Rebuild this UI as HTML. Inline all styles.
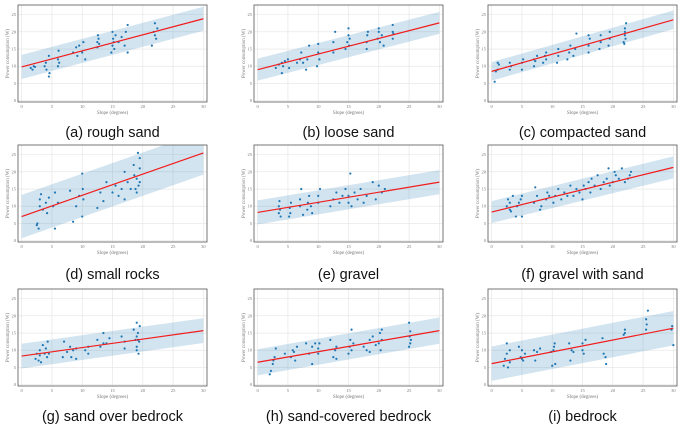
<!DOCTYPE html>
<html><head><meta charset="utf-8">
<style>
html,body{margin:0;padding:0;background:#fff;}
svg{display:block;}
</style></head>
<body>
<svg id="fig" width="685" height="426" viewBox="0 0 685 426" xmlns="http://www.w3.org/2000/svg"></svg>
<script>
const captions=["(a) rough sand","(b) loose sand","(c) compacted sand","(d) small rocks","(e) gravel","(f) gravel with sand","(g) sand over bedrock","(h) sand-covered bedrock","(i) bedrock"];
const xTicks=[0,5,10,15,20,25,30];
const yTicks=[0,5,10,15,20,25];
const fitIntercepts=[9.8,9,8.5,7,8.2,8.3,8.3,6.5,6.1];
const fitEnds=[23.8,22.6,23.5,25.5,17,21.3,15.7,15.7,16.4];
const bandHalf=[3.5,3.2,2.7,6.3,3.5,3.2,3.6,3.8,5];
const aX=[1.5,1.8,2,2.2,3.8,4,4.1,4.5,4.5,4.6,6,6,6.1,6.2,8.5,9,9.2,9.5,10,10.2,10.5,12.5,12.5,12.6,12.7,12.8,14.8,15,15,15.1,15.2,15.3,15.5,16,16.5,17,17.2,17.5,17.5,21.5,21.8,22,22,22.2,22.4];
const aY=[9.5,9,10,9.8,10,11,9,7,13,8,10,12,14.5,11,14,15.5,13,16,14,17,12,15.5,17,19,18,16.5,14,16,20,18,17,15,19,17,18.5,16,20,14,22,16,20,19,22.5,18,21];
const bX=[3,3.5,4,4,4.2,4.5,5,5.2,6.5,7,7.2,7.5,8,8.2,8.5,9.8,10,10,10.2,12.5,12.5,12.8,14.5,14.8,15,15,15.1,15.2,18,18,18.1,18.2,19.8,20,20,20.2,20.5,20.8,22.3,22.3,22.3,22.4];
const bY=[9.5,10.5,8,11,10,11.5,12,9.5,11,12,14,11,9,12,16,10,14,16.5,12,14,17,20,15,17,19,21,16,18,15,17,19,20,18,20,21,17,19,16,18,20,22,19.5];
const cX=[0.5,0.7,1,1,1.2,3,3,3.2,5,5,5.2,7,7,7.2,7.5,8.5,8.8,9,9,10.8,11,11,12.5,12.8,13,13.5,13.8,14,16,16,16.2,16,17.8,18,18,19.3,19.5,19.5,21.8,22,22,22.1,22.2,22,21.9];
const cY=[5.5,8.5,9,11,10.5,9,11,10,9,11,12,10,12,11.5,13,11,13,12,14,11,13,15,12,14,16,13,15,19.5,14,16,18,19,15,17,19,16,18,20,17,19,21,18,22.5,20,16.5];
const dX=[2.5,2.6,2.8,3,3,3.2,3.5,4,4.2,4.5,5.2,5.5,5.5,6,8,8.5,9,9.5,10,10,10.1,10.2,12.5,13,13.5,14,15,15.5,16,16.5,17,17,17.5,18,18.5,19,19,19.2,19.3,19.5,19.5,19.5,18.8,18.6];
const dY=[4.5,5,3.5,10,12,13.5,9,11,8,12.5,10,3.5,14,11,14.5,5.5,10,13,19.5,7,15,12,9.5,14,11.5,17,14,16,13,15,20,12,17,15,22,14,18,25.5,16,21,17,24,15,19];
const eX=[3.5,3.5,3.6,3.8,3.7,5.2,5.3,5.5,5.4,7,7,7.2,7.5,8.2,8.3,8.5,8.8,9,10,10,10.3,12,12.5,13,13.5,14,14.5,15,15,15.3,15.5,16,16.5,17,17.5,18,19,19.5,20,20.5,21];
const eY=[8,10,11.5,7,9,7,9.5,11,8,10,12,15,7.5,9,11,13,10,8,11,13,15,10,12,14,11,13,15,11,13,19.5,10,14,12,15,11,13,17,12,16,14,15];
const fX=[2.5,2.7,3,3,3.2,3.5,4,4.2,4.5,4.8,5,5,7,7.2,7.5,8,8.2,9,9.2,9.5,10.2,10.5,11,11.5,12,12.5,13,13.5,14,14.5,15,15.2,15.5,16,16.3,16.5,17,17.5,18,18.5,19,19.3,19.5,20,20.3,20.5,21,21.5,22,22.5,22.8,23];
const fY=[10,12,9,11,8.5,13,7,10,11,12,7,13,11,15.5,13,9,10,12,14,13,11,13,15,12,14,13,16,13,15,14,12,16,15,17,14,18,16,19,15,17,18,21,16,17,20,19,18,21,17,18,19,20];
const gX=[2.3,2.5,2.8,3,3,3.2,3.5,3.8,4,4.2,4.3,4.5,6.8,7,7.5,8,8.2,8.5,9,9,10.5,11,11,12.5,13,13.5,13.5,14,14.5,16.5,17,17,18.5,18.8,19,19,19,19.2,19.3,19.4,19.5,19,19.2];
const gY=[7.5,9,7,8.5,10,6.5,11.5,9,10.5,8,12.5,9,8,12.5,9.5,11,8,10,10.5,7.5,10,9,11,13,11,15,12,12,13.5,14,10.5,12.5,16,13,18,14,11,15,9,12.5,17,10,13];
const hX=[2,2.2,2.5,2.8,3,2.6,4.5,5.5,5.8,6,6.2,6.5,8,8.5,9,9,9.5,10,10,10.2,12,12.5,12.8,13,13,15,15.2,15.3,15.5,15.5,15.8,17.5,18,18.5,18.5,19,19.5,20,20.2,20.3,20.5,20.5,25,25,25.1,25.2,25.3,25.2];
const hY=[3,4,6,8,10.5,7,9,8,10,9.5,7,11,12,9,6,11,12,9,10.5,12,13,8,10,11,7.5,9,11,13,16,10,12,11,10,13,9.5,14,11.5,12,15,10,13,16,18,11,14,15.5,13,12];
const iX=[2,2.2,2.5,2.5,2.7,3,3,4.5,4.8,5,5,5.5,5.2,7,7.2,7.5,8,9.8,10,10.2,10.4,10.5,10.3,12.8,13,13.2,13.5,15,15,15.2,15.5,18.3,18.5,18.8,18.9,21.8,22,22,25.5,25.6,25.8,25.5,29.7,30,29.8];
const iY=[5.5,7.5,9,12,5,10,6.5,11,8,7.5,10,9,7,10,7,9.5,10.5,9.5,5.5,10,12,6,11,12,7,10,9.5,10,12,9,13,13.5,9,8,6,14.5,15,16,16,17.5,21.5,19,16,11.5,17];
const seriesX=[aX,bX,cX,dX,eX,fX,gX,hX,iX];
const seriesY=[aY,bY,cY,dY,eY,fY,gY,hY,iY];

const NS="http://www.w3.org/2000/svg";
const svg=document.getElementById('fig');
const defs=document.createElementNS(NS,'defs');svg.appendChild(defs);
const colLeft=[18,254,488], rowTop=[5,145,289], PW=189, PH=97;
const capBase=[137,279,421];
function mk(tag,attrs,parent){const e=document.createElementNS(NS,tag);for(const k in attrs)e.setAttribute(k,attrs[k]);parent.appendChild(e);return e;}
for(let p=0;p<9;p++){
  const L=colLeft[p%3], T=rowTop[Math.floor(p/3)];
  const sx=v=>L+(v+0.6)/31.2*PW;
  const sy=v=>T+PH-(v+0.4)/28.2*PH;
  const cp=mk('clipPath',{id:'clip'+p},defs);
  mk('rect',{x:L,y:T,width:PW,height:PH},cp);
  const g=mk('g',{},svg);
  
  
  mk('rect',{x:L,y:T,width:PW,height:PH,fill:'#fff'},g);
  xTicks.forEach(t=>{
    const gl=mk('line',{x1:sx(t),x2:sx(t),y1:T,y2:T+PH,stroke:'#e3e3e3','stroke-width':0.6},g);
    
    
    const tl=mk('text',{x:sx(t),y:T+PH+6,'font-size':4.5,fill:'#777','text-anchor':'middle','font-family':'Liberation Serif, serif'},g);
    tl.textContent=t;
    
    
  });
  yTicks.forEach(t=>{
    const gl=mk('line',{x1:L,x2:L+PW,y1:sy(t),y2:sy(t),stroke:'#e3e3e3','stroke-width':0.6},g);
    
    
    const tl=mk('text',{x:L-2,y:sy(t)+1.5,'font-size':4.5,fill:'#777','text-anchor':'end','font-family':'Liberation Serif, serif'},g);
    tl.textContent=t;
    
    
  });
  const inner=mk('g',{'clip-path':`url(#clip${p})`},g);
  const b0=fitIntercepts[p], b1=fitEnds[p], h=bandHalf[p];
  const band=mk('polygon',{points:`${sx(0)},${sy(b0+h)} ${sx(30)},${sy(b1+h)} ${sx(30)},${sy(b1-h)} ${sx(0)},${sy(b0-h)}`,fill:'#1f77b4','fill-opacity':0.2},inner);
  
  
  const xs=seriesX[p], ys=seriesY[p];
  for(let k=0;k<xs.length;k++){
    const c=mk('circle',{cx:sx(xs[k]),cy:sy(ys[k]),r:1.1,fill:'#1f77b4'},inner);
    
    
  }
  const ln=mk('line',{x1:sx(0),y1:sy(b0),x2:sx(30),y2:sy(b1),stroke:'#f21c1c','stroke-width':1.2},inner);
  
  
  const fr=mk('rect',{x:L,y:T,width:PW,height:PH,fill:'none',stroke:'#555','stroke-width':0.8},g);
  
  
  const xl=mk('text',{x:L+PW/2,y:T+PH+12,'font-size':5,fill:'#777','text-anchor':'middle','font-family':'Liberation Serif, serif'},g);
  xl.textContent='Slope (degrees)';
  
  
  const yl=mk('text',{x:0,y:0,'font-size':5,fill:'#777','text-anchor':'middle','font-family':'Liberation Serif, serif',transform:`translate(${L-9},${T+PH/2}) rotate(-90)`},g);
  yl.textContent='Power consumption (W)';
  
  
  const cap=mk('text',{x:L+PW/2,y:capBase[Math.floor(p/3)],'font-size':14.5,fill:'#111','text-anchor':'middle','font-family':'Liberation Sans, DejaVu Sans, sans-serif'},g);
  cap.textContent=captions[p];
  
  
}
</script>
</body></html>
